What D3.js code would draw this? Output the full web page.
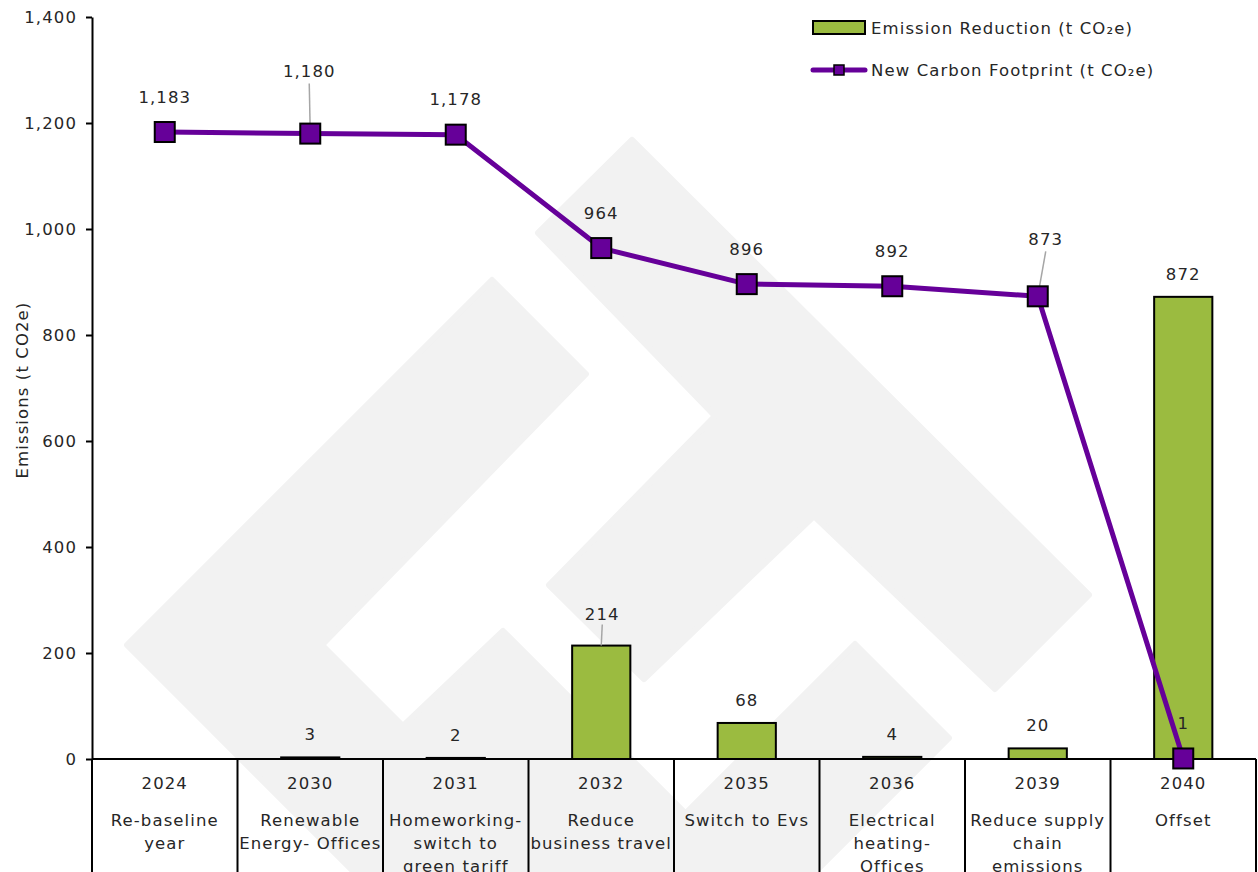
<!DOCTYPE html>
<html>
<head>
<meta charset="utf-8">
<script src="https://cdn.jsdelivr.net/npm/d3@7"></script>
<style>
  body { margin: 0; background: #fff; }
  text { font-family: "DejaVu Sans", sans-serif; fill: #262626; letter-spacing: 1.1px; }
</style>
</head>
<body>
<div id="chart"></div>
<script>
// chart data
var years = ["2024", "2030", "2031", "2032", "2035", "2036", "2039", "2040"];
var actions = [
    ["Re-baseline", "year"],
    ["Renewable", "Energy- Offices"],
    ["Homeworking-", "switch to", "green tariff"],
    ["Reduce", "business travel"],
    ["Switch to Evs"],
    ["Electrical", "heating-", "Offices"],
    ["Reduce supply", "chain", "emissions"],
    ["Offset"]
];
var reduction = [null, 3, 2, 214, 68, 4, 20, 872];
var footprint = [1183, 1180, 1178, 964, 896, 892, 873, 1];
var yTicks = [0, 200, 400, 600, 800, 1000, 1200, 1400];

// labels that sit higher with a leader line (index -> extra lift / x shift)
var lineLabelMove = {1: {dy: 62, dx: -1}, 6: {dy: 57, dx: 8}};
var barLabelMove = {3: {dy: 31, dx: 1}};

var width = 1258, height = 872;
var margin = {top: 17, right: 2, bottom: 113, left: 92};
var fs = "16.5px";

var purple = "#660099", green = "#9bbb40";

var svg = d3.select("#chart")
    .append("svg")
    .attr("width", width)
    .attr("height", height);

// background watermark logo
var wm = [
    [[127,645],[492,280],[586,374],[322,645],[403,726],[503,631],[780,908],[390,908]],
    [[632,140],[1089,595],[995,689],[814,516],[644,679],[549,585],[715,416],[538,233]],
    [[855,644],[949,738],[779,908],[591,908]]
];
svg.append("g")
    .selectAll("polygon")
    .data(wm)
    .join("polygon")
    .attr("points", d => d.join(" "))
    .attr("fill", "#f2f2f2")
    .attr("stroke", "#f2f2f2")
    .attr("stroke-width", 6)
    .attr("stroke-linejoin", "round");

const x = d3.scaleBand()
    .domain(years)
    .range([margin.left, width - margin.right])
    .padding(0);

const y = d3.scaleLinear()
    .domain([0, 1400])
    .range([height - margin.bottom, margin.top]);

var bw = x.bandwidth();
var cx = d => x(d) + bw / 2;

// bars
var barData = years.map((yr, i) => ({year: yr, v: reduction[i], i: i})).filter(d => d.v != null);
svg.append("g")
    .selectAll("rect")
    .data(barData)
    .join("rect")
    .attr("x", d => cx(d.year) - bw * 0.2)
    .attr("width", bw * 0.4)
    .attr("y", d => y(d.v))
    .attr("height", d => y(0) - y(d.v))
    .attr("fill", green)
    .attr("stroke", "#000")
    .attr("stroke-width", 2);

// y axis
svg.append("g")
    .attr("transform", `translate(${margin.left},0)`)
    .call(d3.axisLeft(y).tickValues(yTicks).tickFormat(d3.format(",")).tickSize(6).tickSizeOuter(0).tickPadding(9))
    .call(g => g.selectAll("line,path").attr("stroke", "#000").attr("stroke-width", 2))
    .call(g => g.selectAll("text").attr("font-size", fs).attr("fill", "#262626").attr("font-family", "DejaVu Sans"));

svg.append("text")
    .attr("transform", "translate(22,390) rotate(-90)")
    .attr("text-anchor", "middle")
    .attr("dy", "0.35em")
    .attr("font-size", fs)
    .text("Emissions (t CO2e)");

// category table under the axis
var tbl = svg.append("g");
tbl.append("line")
    .attr("x1", margin.left).attr("x2", width - margin.right)
    .attr("y1", y(0)).attr("y2", y(0))
    .attr("stroke", "#000").attr("stroke-width", 2);
tbl.selectAll("line.div")
    .data(years.map(d => x(d)).concat([x(years[years.length - 1]) + bw]))
    .join("line")
    .attr("class", "div")
    .attr("x1", d => d).attr("x2", d => d)
    .attr("y1", y(0)).attr("y2", height)
    .attr("stroke", "#000").attr("stroke-width", 2);
tbl.selectAll("text.yr")
    .data(years)
    .join("text")
    .attr("class", "yr")
    .attr("x", d => cx(d))
    .attr("y", 783)
    .attr("dy", "0.35em")
    .attr("text-anchor", "middle")
    .attr("font-size", fs)
    .text(d => d);
years.forEach((yr, i) => {
    tbl.selectAll(null)
        .data(actions[i])
        .join("text")
        .attr("x", cx(yr))
        .attr("y", (d, j) => 820 + j * 23)
        .attr("dy", "0.35em")
        .attr("text-anchor", "middle")
        .attr("font-size", fs)
        .text(d => d);
});

// line
var lineData = years.map((yr, i) => ({year: yr, v: footprint[i], i: i}));
svg.append("path")
    .datum(lineData)
    .attr("fill", "none")
    .attr("stroke", purple)
    .attr("stroke-width", 5)
    .attr("stroke-linejoin", "round")
    .attr("d", d3.line().x(d => cx(d.year)).y(d => y(d.v)));

// leader lines
var lead = svg.append("g").attr("stroke", "#a6a6a6").attr("stroke-width", 1.5);
lineData.filter(d => lineLabelMove[d.i]).forEach(d => {
    var m = lineLabelMove[d.i];
    lead.append("line")
        .attr("x1", cx(d.year) + m.dx).attr("y1", y(d.v) - m.dy + 12)
        .attr("x2", cx(d.year)).attr("y2", y(d.v));
});
barData.filter(d => barLabelMove[d.i]).forEach(d => {
    var m = barLabelMove[d.i];
    lead.append("line")
        .attr("x1", cx(d.year) + m.dx).attr("y1", y(d.v) - m.dy + 10)
        .attr("x2", cx(d.year)).attr("y2", y(d.v));
});

// markers
svg.append("g")
    .selectAll("rect")
    .data(lineData)
    .join("rect")
    .attr("x", d => cx(d.year) - 10)
    .attr("y", d => y(d.v) - 10)
    .attr("width", 20)
    .attr("height", 20)
    .attr("fill", purple)
    .attr("stroke", "#000")
    .attr("stroke-width", 2);

// value labels
svg.append("g")
    .selectAll("text")
    .data(barData)
    .join("text")
    .attr("x", d => cx(d.year) + (barLabelMove[d.i] ? barLabelMove[d.i].dx : 0))
    .attr("y", d => y(d.v) - (barLabelMove[d.i] ? barLabelMove[d.i].dy : 23))
    .attr("dy", "0.35em")
    .attr("text-anchor", "middle")
    .attr("font-size", fs)
    .text(d => d3.format(",")(d.v));

svg.append("g")
    .selectAll("text")
    .data(lineData)
    .join("text")
    .attr("x", d => cx(d.year) + (lineLabelMove[d.i] ? lineLabelMove[d.i].dx : 0))
    .attr("y", d => y(d.v) - (lineLabelMove[d.i] ? lineLabelMove[d.i].dy : 35))
    .attr("dy", "0.35em")
    .attr("text-anchor", "middle")
    .attr("font-size", fs)
    .text(d => d3.format(",")(d.v));

// legend
var lg = svg.append("g");
lg.append("rect")
    .attr("x", 813).attr("y", 21).attr("width", 52).attr("height", 13)
    .attr("fill", green).attr("stroke", "#000").attr("stroke-width", 2);
lg.append("text")
    .attr("x", 871).attr("y", 28).attr("dy", "0.35em")
    .attr("font-size", fs)
    .text("Emission Reduction (t CO₂e)");
lg.append("line")
    .attr("x1", 813).attr("x2", 865).attr("y1", 70).attr("y2", 70)
    .attr("stroke", purple).attr("stroke-width", 5).attr("stroke-linecap", "round");
lg.append("rect")
    .attr("x", 834).attr("y", 65).attr("width", 10).attr("height", 10)
    .attr("fill", purple).attr("stroke", "#000").attr("stroke-width", 1.5);
lg.append("text")
    .attr("x", 871).attr("y", 70).attr("dy", "0.35em")
    .attr("font-size", fs)
    .text("New Carbon Footprint (t CO₂e)");
</script>
</body>
</html>
